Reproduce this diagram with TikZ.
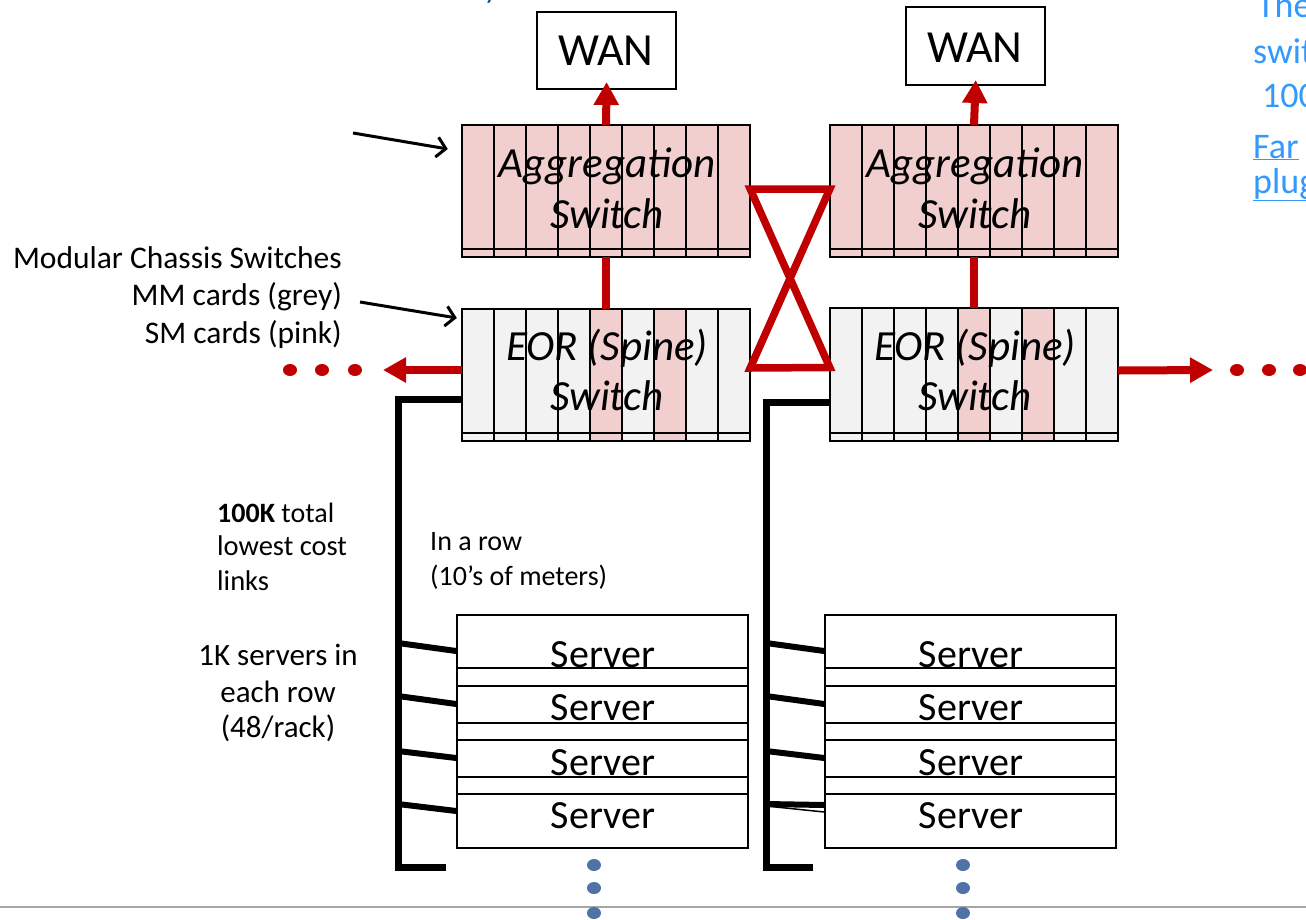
\documentclass[tikz,border=0pt]{standalone}
\usepackage{fontspec}
\setmainfont{Carlito}
\usetikzlibrary{arrows.meta,positioning}
\definecolor{cardpink}{RGB}{242,207,207}
\definecolor{cardgrey}{RGB}{242,242,242}
\definecolor{linkred}{RGB}{192,0,0}
\definecolor{dotblue}{RGB}{79,114,168}
\definecolor{noteblue}{RGB}{51,153,255}
\definecolor{darkblue}{RGB}{31,78,150}
\tikzset{
  chassis/.style={minimum width=288pt, minimum height=132pt, inner sep=0pt},
  wanbox/.style={draw, line width=2pt, minimum width=139pt, minimum height=77pt, inner sep=0pt},
  rackbox/.style={draw, line width=1.5pt, minimum width=291pt, minimum height=233pt, inner sep=0pt},
  redlink/.style={linkred, line width=7.5pt, line join=miter},
  uplink/.style={linkred, line width=8pt, -{Triangle[width=24pt,length=23pt]}},
  bus/.style={line width=7pt},
  stub/.style={line width=6pt},
  callout/.style={line width=3pt, -{Straight Barb[length=9pt,width=20pt]}},
  sidelbl/.style={font=\fontsize{31.5}{37}\selectfont, inner sep=0pt},
  boxlbl/.style={font=\fontsize{43}{48}\selectfont\itshape, inner sep=0pt, anchor=base},
  serverlbl/.style={font=\fontsize{40}{48}\selectfont, inner sep=0pt, anchor=base},
  notelbl/.style={font=\fontsize{36}{44}\selectfont, text=noteblue, inner sep=0pt, anchor=base west}
}
\begin{document}
\begin{tikzpicture}[x=1pt,y=-1pt]
\useasboundingbox (0,0) rectangle (1306,919);
\clip (0,0) rectangle (1306,919);

% gray slide rule at the bottom
\draw[gray!70, line width=1.2pt] (0,907) -- (1306,907);

% WAN boxes
\node[wanbox] (wan1) at (606.5,50.5) {};
\node[wanbox, minimum height=78pt] (wan2) at (975.5,46) {};
\node[serverlbl, font=\fontsize{46}{50}\selectfont] (wanlbl1) at (606,65) {WAN};
\node[serverlbl, font=\fontsize{46}{50}\selectfont] (wanlbl2) at (975,62) {WAN};

% chassis switches
\node[chassis, fill=cardpink] (agg1) at (606,191) {};
\node[chassis, fill=cardpink] (agg2) at (974,191) {};
\node[chassis, fill=cardgrey] (eor1) at (606,375) {};
\node[chassis, fill=cardgrey, minimum height=133pt] (eor2) at (974,374.5) {};
\foreach \c in {eor1,eor2}
  \foreach \i in {4,6}
    \fill[cardpink] ([xshift=32pt*\i]\c.south west) rectangle ([xshift=32pt*\i+32pt]\c.north west);
\foreach \c in {agg1,agg2,eor1,eor2} {
  \foreach \i in {1,...,8}
    \draw[line width=2pt] ([xshift=32pt*\i]\c.north west) -- ([xshift=32pt*\i]\c.south west);
  \draw[line width=1.5pt] ([yshift=8pt]\c.south west) -- ([yshift=8pt]\c.south east);
  \draw[line width=2pt] (\c.south west) rectangle (\c.north east);
}
\node[boxlbl] (agglbl1) at (607,177) {Aggregation};
\node[boxlbl] (aggsw1) at (607,228) {Switch};
\node[boxlbl] (agglbl2) at (975,177) {Aggregation};
\node[boxlbl] (aggsw2) at (975,228) {Switch};
\node[boxlbl] (eorlbl1) at (607,360) {EOR (Spine)};
\node[boxlbl] (eorsw1) at (607,410) {Switch};
\node[boxlbl] (eorlbl2) at (975,360) {EOR (Spine)};
\node[boxlbl] (eorsw2) at (975,410) {Switch};

% red links
\draw[uplink, shorten >=-8pt] (agg1.north) -- (wan1.south);
\draw[uplink, shorten >=-6pt] (agg2.north) -- (wan2.south);
\draw[redlink] (agg1.south) -- (eor1.north);
\draw[redlink] (agg2.south) -- (eor2.north);
\draw[redlink] ([yshift=2pt]agg1.east) -- ([yshift=2pt]agg2.west) -- ([yshift=7pt]eor1.east) -- ([yshift=7pt]eor2.west) -- cycle;
\coordinate (leftend) at (383,370);
\coordinate (rightend) at (1213,370);
\draw[uplink] ([yshift=5pt]eor1.west) -- (leftend);
\draw[uplink] ([yshift=4pt]eor2.east) -- (rightend);
\foreach \x in {290,322,355,1237,1269,1300}
  \fill[linkred] (\x,370) ellipse (7 and 6);

% server racks
\node[rackbox] (rack1) at (602.5,731.5) {};
\node[rackbox] (rack2) at (970.5,731.5) {};
\foreach \r in {rack1,rack2}
  \foreach \y in {668,686,723,740,777,794}
    \draw[line width=1.5pt] (\r.west |- 0,\y) -- (\r.east |- 0,\y);
\foreach \y [count=\k] in {667,720,775,828} {
  \node[serverlbl] (srvA\k) at (603,\y) {Server};
  \node[serverlbl] (srvB\k) at (971,\y) {Server};
}
\foreach \y in {865,888,913} {
  \fill[dotblue] (594,\y) ellipse (7 and 6);
  \fill[dotblue] (963,\y) ellipse (7 and 6);
}

% black cabling
\draw[bus] ([yshift=-24pt]eor1.west) -| (398,867) -- (446,867);
\draw[bus] ([yshift=-28pt]eor2.west) -| (766,867) -- (813,867);
\foreach \a/\b in {643/651,696/704,751/758,804/811}
  \draw[stub] (398,\a) -- (rack1.west |- 0,\b);
\foreach \a/\b in {643/651,696/704,751/758}
  \draw[stub] (766,\a) -- (rack2.west |- 0,\b);
\draw[stub] (766,804) -- (rack2.west |- 0,805);
\draw[line width=1.5pt] (766,806) -- (rack2.west |- 0,812);

% side labels
\node[sidelbl, anchor=base east] (modlbl) at (342,268) {Modular Chassis Switches};
\node[sidelbl, anchor=base east] (mmlbl) at (342,305) {MM cards (grey)};
\node[sidelbl, anchor=base east] (smlbl) at (342,343) {SM cards (pink)};
\coordinate (aggtail) at (353,133);
\coordinate (mmtail) at (360,302);
\draw[callout] (aggtail) -- ([shift={(-14,-42)}]agg1.west);
\draw[callout] (mmtail) -- ([shift={(-5,-57)}]eor1.west);

\node[sidelbl, font=\fontsize{28}{34}\selectfont, anchor=base west] (linkslbl) at (217,522) {\textbf{100K} total};
\node[sidelbl, font=\fontsize{28.5}{34}\selectfont, anchor=base west] (costlbl) at (217,555) {lowest cost};
\node[sidelbl, font=\fontsize{28.5}{34}\selectfont, anchor=base west] (linkslbl2) at (217,590) {links};
\node[sidelbl, font=\fontsize{31}{36}\selectfont, anchor=base] (rowlbl1) at (278,665) {1K servers in};
\node[sidelbl, font=\fontsize{31}{36}\selectfont, anchor=base] (rowlbl2) at (278,702) {each row};
\node[sidelbl, font=\fontsize{31}{36}\selectfont, anchor=base] (rowlbl3) at (278,737) {(48/rack)};
\node[sidelbl, font=\fontsize{28}{34}\selectfont, anchor=base west] (inrow1) at (430,550) {In a row};
\node[sidelbl, font=\fontsize{28}{34}\selectfont, anchor=base west] (inrow2) at (430,585) {(10’s of meters)};

% clipped slide notes
\node[notelbl, text=darkblue, font=\fontsize{30}{36}\selectfont] (topnote) at (484,-2) {y};
\node[notelbl] (note1) at (1257,17) {The};
\node[notelbl] (note2) at (1253,63) {swit};
\node[notelbl] (note3) at (1262,107) {100};
\node[notelbl] (note4) at (1253,158) {\underline{Far}};
\node[notelbl] (note5) at (1253,193) {\underline{plug}};
\end{tikzpicture}
\end{document}
